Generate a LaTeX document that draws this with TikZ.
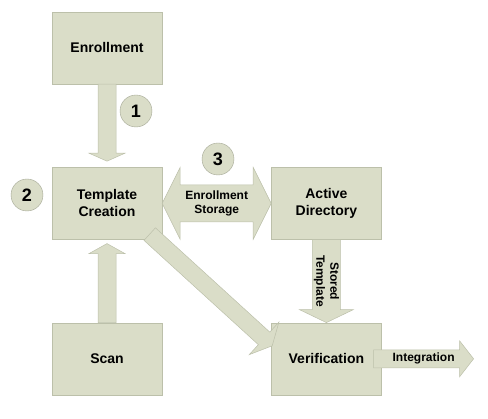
\documentclass[tikz,border=0pt]{standalone}
\usepackage{fontspec}
\setmainfont{Liberation Sans}
\usetikzlibrary{calc,positioning}

\definecolor{boxfill}{HTML}{DADDC8}
\definecolor{boxline}{HTML}{BCC0AA}
\definecolor{ringline}{HTML}{A3A694}

% fat arrow: from, to, half shaft, half head, head length
\newcommand{\fatarrow}[5]{%
  \coordinate (fahead) at ($(#2)!#5!(#1)$);
  \draw[fatline] ($(#1)!#3!90:(#2)$) -- ($(fahead)!#3!90:(#2)$) -- ($(fahead)!#4!90:(#2)$) -- (#2)
    -- ($(fahead)!#4!-90:(#2)$) -- ($(fahead)!#3!-90:(#2)$) -- ($(#1)!#3!-90:(#2)$) -- cycle;}
% same, with a head at both ends
\newcommand{\fatdouble}[5]{%
  \coordinate (fahead) at ($(#2)!#5!(#1)$);
  \coordinate (fatail) at ($(#1)!#5!(#2)$);
  \draw[fatline] (#1) -- ($(fatail)!#4!90:(#2)$) -- ($(fatail)!#3!90:(#2)$) -- ($(fahead)!#3!90:(#2)$)
    -- ($(fahead)!#4!90:(#2)$) -- (#2) -- ($(fahead)!#4!-90:(#2)$) -- ($(fahead)!#3!-90:(#2)$)
    -- ($(fatail)!#3!-90:(#2)$) -- ($(fatail)!#4!-90:(#2)$) -- cycle;}

\begin{document}
\begin{tikzpicture}[
  x=1pt, y=-1pt,
  node distance=83pt and 109pt,
  stage/.style={draw=boxline, fill=boxfill, minimum width=110pt, minimum height=72pt,
    inner sep=0pt, align=center, font=\bfseries\fontsize{14}{17}\selectfont},
  tag/.style={inner sep=0pt, align=center, font=\bfseries\fontsize{12}{14}\selectfont},
  ring/.style={circle, draw=ringline, fill=boxfill, minimum size=32pt, inner sep=0pt,
    font=\bfseries\fontsize{18}{18}\selectfont},
  fatline/.style={draw=boxline, fill=boxfill, line width=0.5pt, line join=miter}
]
\useasboundingbox (0,0) rectangle (488,419);

% stages
\node[stage] (enroll) at (107,48) {Enrollment};
\node[stage, below=of enroll] (tmpl) {Template\\Creation};
\node[stage, below=of tmpl] (scan) {Scan};
\node[stage, right=of tmpl] (ad) {Active\\Directory};
\node[stage, below=of ad] (verif) {Verification};

% arrow ends
\coordinate (tip1) at ($(tmpl.north)+(0,-6)$);
\coordinate (tip2) at ($(tmpl.south)+(0,4)$);
\coordinate (diagstart) at ($(tmpl.south east)+(-12.5,-5.5)$);
\coordinate (diagtip) at ($(verif.west)+(1,-13)$);
\coordinate (intstart) at ($(verif.east)+(-8,0)$);
\coordinate (inttip) at ($(verif.east)+(92,0)$);

% connectors
\fatarrow{enroll.south}{tip1}{9pt}{18pt}{8pt}
\fatarrow{scan.north}{tip2}{9pt}{18pt}{10pt}
\fatdouble{tmpl.east}{ad.west}{18.5pt}{36pt}{18pt}
\fatarrow{ad.south}{verif.north}{14pt}{27pt}{13pt}
\fatarrow{diagstart}{diagtip}{8.5pt}{22pt}{11pt}
\fatarrow{intstart}{inttip}{9pt}{18pt}{14pt}

% labels
\node[tag] (storage) at ($(tmpl.east)!0.5!(ad.west)$) {Enrollment\\Storage};
\node[tag, rotate=-90] (stored) at ($(ad.south)!0.5!(verif.north)$) {Stored\\Template};
\node[tag] (integ) at ($(intstart)!0.5!(inttip)$) {Integration};

% step numbers
\node[ring] (one) at (136,111) {1};
\node[ring] (two) at (27,195) {2};
\node[ring] (three) at (218,159) {3};
\end{tikzpicture}
\end{document}
